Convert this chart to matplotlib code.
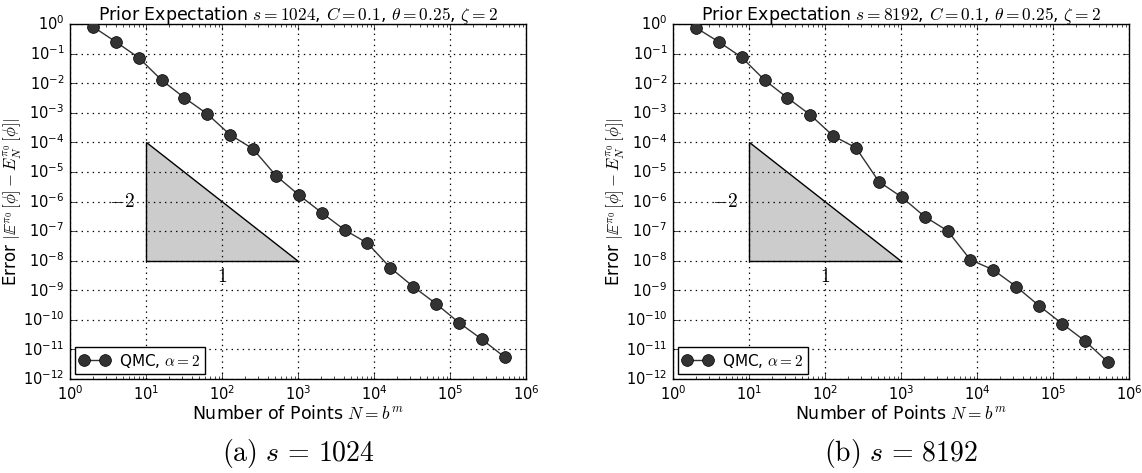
import numpy as np
import matplotlib
matplotlib.use('agg')
import matplotlib.pyplot as plt

# number of QMC points N = 2^m, m = 1..19
n_points = [2, 4, 8, 16, 32, 64, 128, 256, 512, 1024, 2048, 4096, 8192,
            16384, 32768, 65536, 131072, 262144, 524288]

# error values
err_s1024 = [0.81, 0.25, 0.073, 0.0128, 3.2e-3, 9.1e-4, 1.8e-4, 6.0e-5, 7.5e-6,
             1.67e-6, 4.2e-7, 1.1e-7, 3.9e-8, 5.8e-9, 1.33e-9, 3.5e-10,
             8.1e-11, 2.2e-11, 5.5e-12]
err_s8192 = [0.75, 0.25, 0.075, 0.0128, 3.2e-3, 8.5e-4, 1.65e-4, 6.5e-5, 4.7e-6,
             1.4e-6, 3.1e-7, 1.02e-7, 1.07e-8, 4.9e-9, 1.33e-9, 3.0e-10,
             7.5e-11, 1.95e-11, 3.8e-12]

dims = [1024, 8192]
captions = ['(a)', '(b)']

# slope triangle corners
tri_x = [10, 10, 1000]
tri_y = [1e-4, 1e-8, 1e-8]

plt.style.use('classic')
plt.rcParams['mathtext.fontset'] = 'cm'
plt.rcParams['figure.facecolor'] = 'white'
plt.rcParams['savefig.facecolor'] = 'white'

fig = plt.figure(figsize=(11.42, 4.73), dpi=100)
lefts = [70 / 1142, 673 / 1142]
w = 456 / 1142
b = 1 - 379 / 473
h = 355 / 473

for k, errs in enumerate([err_s1024, err_s8192]):
  ax = fig.add_axes([lefts[k], b, w, h])
  ax.fill(tri_x, tri_y, facecolor='0.8', edgecolor='black', linewidth=1.0, zorder=1)
  ax.text(7.2, 1e-6, r'$-2$', ha='right', va='center', fontsize=14)
  ax.text(100, 3.0e-9, r'$1$', ha='center', va='center', fontsize=14)
  ax.loglog(n_points, errs, '-o', color='#333333', markerfacecolor='#333333',
            markeredgecolor='black', markersize=8.5, linewidth=1.0,
            label=r'QMC, $\alpha=2$', zorder=3)
  ax.set_xlim(1, 1e6)
  ax.set_ylim(1e-12, 1)
  ax.set_yticks([10.0 ** -i for i in range(13)])
  ax.set_xticks([10.0 ** i for i in range(7)])
  ax.grid(True, which='major', linestyle=':', color='black', linewidth=0.9)
  ax.tick_params(labelsize=10.5)
  ax.set_title(r'Prior Expectation $s=%d$, $C=0.1$, $\theta=0.25$, $\zeta=2$' % dims[k],
               fontsize=12.5, pad=3)
  ax.set_xlabel(r'Number of Points $N=b^m$', fontsize=12.5, labelpad=1)
  ax.set_ylabel(r'Error $|\mathbb{E}^{\pi_0}\,[\phi]-E_N^{\pi_0}\,[\phi]|$', fontsize=12)
  ax.yaxis.set_label_coords(-0.10, 0.5)
  ax.legend(loc='lower left', fontsize=11, numpoints=2, handlelength=2.0,
            borderaxespad=0.3, borderpad=0.3, handletextpad=0.6)
  fig.text(lefts[k] + w / 2, 0.042, r'$\mathrm{%s}\ s\,=\,%d$' % (captions[k], dims[k]),
           ha='center', va='center', fontsize=20)

fig.savefig('out.png', dpi=100)
